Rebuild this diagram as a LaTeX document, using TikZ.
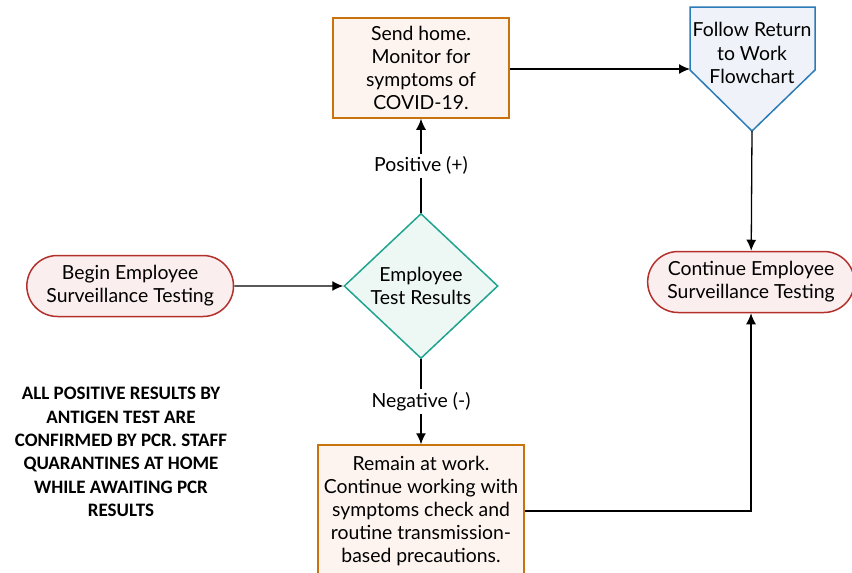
\documentclass[tikz,border=0pt]{standalone}
\usepackage{fontspec}
\setmainfont{Lato}
\newfontfamily\notefont{Carlito}
\usetikzlibrary{positioning, arrows.meta, shapes.geometric, shapes.misc}

\definecolor{sendline}{HTML}{C8730E}
\definecolor{sendfill}{HTML}{FDF4EF}
\definecolor{rtwline}{HTML}{2B7BB9}
\definecolor{rtwfill}{HTML}{EFF3F9}
\definecolor{termline}{HTML}{B3302C}
\definecolor{termfill}{HTML}{FBEEEE}
\definecolor{testline}{HTML}{20A38F}
\definecolor{testfill}{HTML}{EDF8F4}

\begin{document}
\begin{tikzpicture}[x=0.5pt, y=-0.5pt, line width=0.65pt,
    font=\fontsize{9.7}{11.6}\selectfont,
    >={Latex[length=5.5pt, width=5pt]},
    action/.style={draw=sendline, fill=sendfill, rectangle, align=center, inner sep=2pt, line width=0.75pt},
    terminal/.style={draw=termline, fill=termfill, rounded rectangle, align=center, minimum width=110pt, minimum height=30.5pt, line width=0.75pt},
    decision/.style={draw=testline, fill=testfill, diamond, align=center, inner sep=0pt, minimum width=77pt, minimum height=72.5pt, line width=0.75pt},
    outcome/.style={fill=white, inner sep=1.5pt}]
	\useasboundingbox (0,0) rectangle (852,573);
	\clip (0,0) rectangle (852,573);

	% Nodes
	\node (test) [decision] at (421,286) {Employee\\Test Results};
	\node (home) [action, above=47pt of test, minimum width=88pt, minimum height=50pt] {Send home.\\Monitor for\\symptoms of\\COVID-19.};
	\node (work) [action, below=42.5pt of test, minimum width=103pt, minimum height=66pt] {Remain at work.\\Continue working with\\symptoms check and\\routine transmission-\\based precautions.};
	\node (begin) [terminal, left=54.5pt of test] {Begin Employee\\Surveillance Testing};
	\node (cont) [terminal] at (751,282) {Continue Employee\\Surveillance Testing};

	% Return to work (pentagon)
	\draw[draw=rtwline, fill=rtwfill, line width=0.75pt] (690,7) -- (815,7) -- (815,70) -- (752,131) -- (690,70) -- cycle;
	\node (rtw) [align=center] at (752,53) {Follow Return\\to Work\\Flowchart};
	\coordinate (rtw west) at (690,69);
	\coordinate (rtw tip) at (752,131);

	% Note
	\node (note) [align=center, font=\notefont\bfseries\fontsize{9.5}{11.7}\selectfont] at (121,452) {ALL POSITIVE RESULTS BY\\ANTIGEN TEST ARE\\CONFIRMED BY PCR. STAFF\\QUARANTINES AT HOME\\WHILE AWAITING PCR\\RESULTS};

	% Arrows
	\draw[->] (begin) -- (test);
	\draw[->] (test) -- node[outcome] {Positive (+)} (home);
	\draw[->] (test) -- node[outcome] {Negative (-)} (work);
	\draw[->] (home.east |- rtw west) -- (rtw west);
	\draw[->] (rtw tip) -- (cont);
	\draw[->] (work.east) -| (cont.south);
\end{tikzpicture}
\end{document}
